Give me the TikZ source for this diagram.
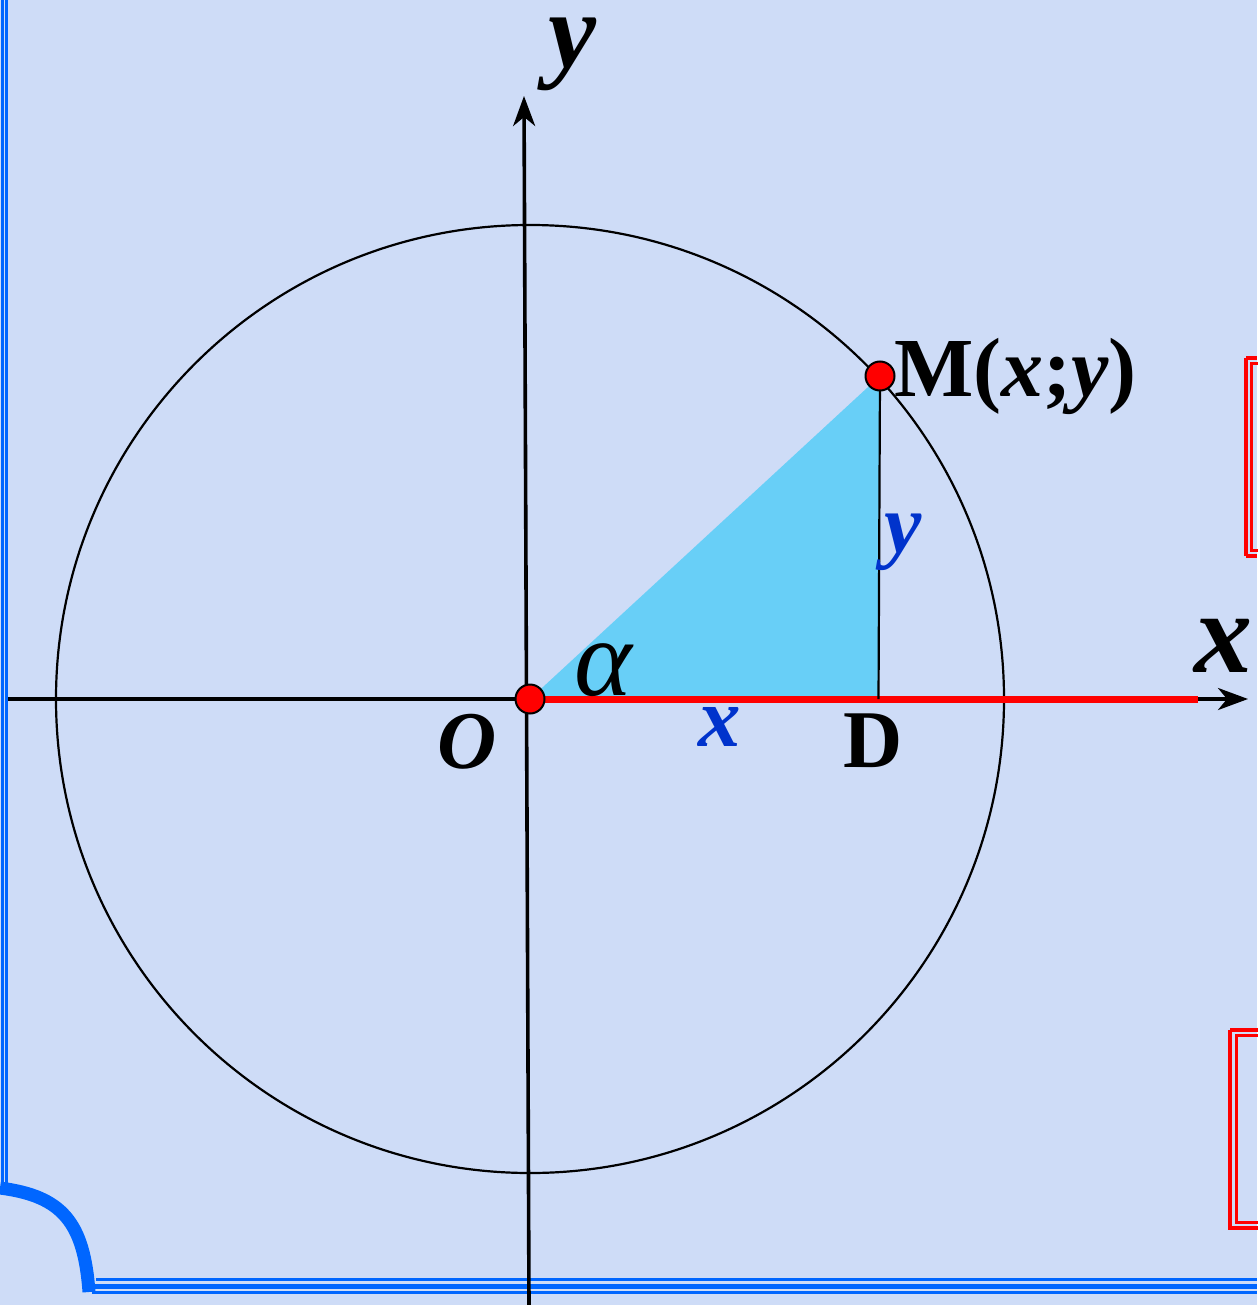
\documentclass[tikz,border=0pt]{standalone}
\usepackage{fontspec}
\setmainfont{Liberation Serif}
\usetikzlibrary{arrows.meta}
\definecolor{bg}{RGB}{206,220,247}
\definecolor{frameblue}{RGB}{0,102,255}
\definecolor{tricyan}{RGB}{104,207,247}
\definecolor{lblblue}{RGB}{0,51,204}
\definecolor{boxred}{RGB}{255,0,0}
\tikzset{
  axisline/.style={line width=3.6pt,-{Stealth[length=30pt,width=22pt,inset=9pt]}},
  framel/.style={draw=frameblue,line width=3pt},
  redbox/.style={draw=boxred,line width=3pt},
  ptdot/.style={circle,fill=red,draw=black,line width=2pt,minimum size=29pt,inner sep=0pt},
  lbl/.style={inner sep=0pt},
}
\begin{document}
\begin{tikzpicture}[x=1pt,y=-1pt]
\useasboundingbox (0,0) rectangle (1257,1305);
\fill[bg] (0,0) rectangle (1257,1305);
% frame
\draw[framel,line width=3.4pt] (2.5,0) -- (2.5,1185);
\draw[framel] (6.5,0) -- (6.5,1185);
\draw[framel,line width=13pt] (0,1188) .. controls (62,1196) and (84,1222) .. (89,1292);
\draw[framel] (96,1279.5) -- (1257,1279.5);
\draw[framel,line width=5pt] (94,1286) -- (1257,1286);
\draw[framel] (92,1292.5) -- (1257,1292.5);
% red boxes
\draw[redbox,line width=4pt] (1246,358) -- (1246,556);
\draw[redbox,line width=4pt] (1246,358) -- (1257,358);
\draw[redbox,line width=4pt] (1246,556) -- (1257,556);
\draw[redbox] (1251.5,363.5) rectangle (1262,550.5);
\draw[redbox,line width=4pt] (1230,1030) -- (1230,1228) -- (1260,1228);
\draw[redbox,line width=4pt] (1230,1030) -- (1260,1030);
\draw[redbox] (1236,1035.5) rectangle (1262,1222);
% geometry
\coordinate (O) at (530,699);
\coordinate (M) at (880,376);
\coordinate (D) at (878.5,699);
\coordinate (xs) at (8,699);
\coordinate (xe) at (1248,699);
\coordinate (ys) at (529,1305);
\coordinate (ye) at (524,96);
\coordinate (rend) at (1198,699);
\fill[tricyan] (O) -- (M) -- (D) -- cycle;
\draw[line width=2.2pt] (O) circle[radius=474pt];
\draw[axisline] (xs) -- (xe);
\draw[axisline] (ys) -- (ye);
\draw[red,line width=7pt] (O) -- (rend);
\draw[line width=2.2pt] (M) -- (D);
\node[ptdot] (Odot) at (O) {};
\node[ptdot] (Mdot) at (M) {};
% labels
\node[lbl,anchor=base] (ylab) at (572,68) {\fontsize{108}{108}\selectfont\bfseries\itshape y};
\node[lbl,anchor=base west] (xlab) at (1194,672) {\fontsize{116}{116}\selectfont\bfseries\itshape x};
\node[lbl,anchor=base west] (Mlab) at (894,396) {\fontsize{84}{84}\selectfont\bfseries M(\textit{x};\textit{y})};
\node[lbl,anchor=base] (Dlab) at (873,767) {\fontsize{82}{82}\selectfont\bfseries D};
\node[lbl,anchor=base] (Olab) at (467,768) {\fontsize{82}{82}\selectfont\bfseries\itshape O};
\node[lbl,anchor=base] (alab) at (603,695) {\fontsize{110}{110}\selectfont\itshape α};
\node[lbl,anchor=base,text=lblblue] (xblue) at (720,746) {\fontsize{85}{85}\selectfont\bfseries\itshape x};
\node[lbl,anchor=base,text=lblblue] (yblue) at (903,552) {\fontsize{84}{84}\selectfont\bfseries\itshape y};
\end{tikzpicture}
\end{document}
